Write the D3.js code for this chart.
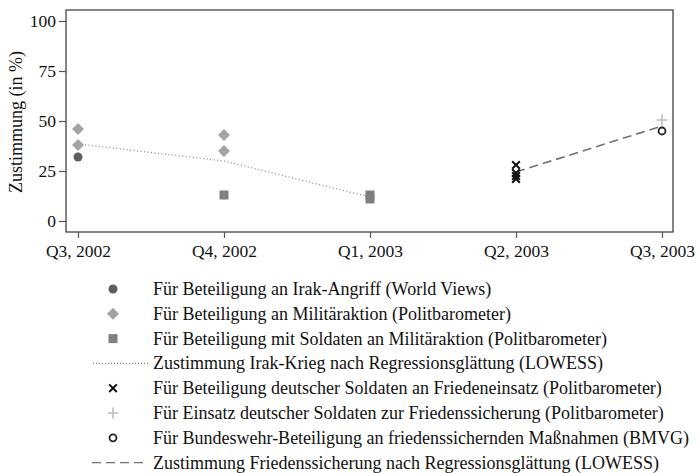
<!DOCTYPE html>
<html>
<head>
<meta charset="utf-8">
<script src="https://cdn.jsdelivr.net/npm/d3@7"></script>
<style>
  body { margin: 0; background: #fff; }
</style>
</head>
<body>
<div id="chart"></div>
<script>
// quarters on the x axis
var quarters = ["Q3, 2002", "Q4, 2002", "Q1, 2003", "Q2, 2003", "Q3, 2003"];
var yTicks = [0, 25, 50, 75, 100];

// survey values, [quarter, percent]
var irakWorldViews = [["Q3, 2002", 32]];
var militaerPolitbarometer = [["Q3, 2002", 46], ["Q3, 2002", 38], ["Q4, 2002", 43], ["Q4, 2002", 35]];
var soldatenPolitbarometer = [["Q4, 2002", 13], ["Q1, 2003", 13], ["Q1, 2003", 11]];
var lowessIrak = [["Q3, 2002", 38.5], ["Q4, 2002", 30], ["Q1, 2003", 12]];
var friedenPolitbarometer = [["Q2, 2003", 28], ["Q2, 2003", 24], ["Q2, 2003", 22.5], ["Q2, 2003", 21]];
var einsatzPolitbarometer = [["Q3, 2003", 50.5]];
var bmvg = [["Q3, 2003", 45]];
var lowessFrieden = [["Q2, 2003", 24.5], ["Q3, 2003", 47.5]];

var legendLabels = [
  "Für Beteiligung an Irak-Angriff (World Views)",
  "Für Beteiligung an Militäraktion (Politbarometer)",
  "Für Beteiligung mit Soldaten an Militäraktion (Politbarometer)",
  "Zustimmung Irak-Krieg nach Regressionsglättung (LOWESS)",
  "Für Beteiligung deutscher Soldaten an Friedeneinsatz (Politbarometer)",
  "Für Einsatz deutscher Soldaten zur Friedenssicherung (Politbarometer)",
  "Für Bundeswehr-Beteiligung an friedenssichernden Maßnahmen (BMVG)",
  "Zustimmung Friedenssicherung nach Regressionsglättung (LOWESS)"
];

var FONT = "'Liberation Serif'";

var width = 698, height = 473;
var frame = {left: 66, right: 673, top: 10, bottom: 232};

var svg = d3.select("#chart").append("svg")
  .attr("width", width)
  .attr("height", height);

var x = d3.scalePoint().domain(quarters).range([78, 662]);
var y = d3.scaleLinear().domain([0, 100]).range([221, 21]);

// frame
svg.append("rect")
  .attr("x", frame.left).attr("y", frame.top)
  .attr("width", frame.right - frame.left)
  .attr("height", frame.bottom - frame.top)
  .attr("fill", "none")
  .attr("stroke", "#333")
  .attr("stroke-width", 1.2);

// axes
var yAxis = svg.append("g")
  .attr("transform", "translate(" + frame.left + ",0)")
  .call(d3.axisLeft(y).tickValues(yTicks).tickSize(7).tickPadding(3));
var xAxis = svg.append("g")
  .attr("transform", "translate(0," + frame.bottom + ")")
  .call(d3.axisBottom(x).tickSize(6).tickPadding(7));
[yAxis, xAxis].forEach(function(a){
  a.attr("font-family", FONT).attr("font-size", 17.5);
  a.select(".domain").remove();
  a.selectAll(".tick line").attr("stroke", "#555").attr("stroke-width", 1.2);
  a.selectAll("text").attr("fill", "#111");
});

svg.append("text")
  .attr("transform", "translate(22,122) rotate(-90)")
  .attr("text-anchor", "middle")
  .attr("font-family", FONT)
  .attr("font-size", 18)
  .attr("fill", "#111")
  .text("Zustimmung (in %)");

// smoothing lines
var line = d3.line()
  .x(function(d){ return x(d[0]); })
  .y(function(d){ return y(d[1]); });

svg.append("path").datum(lowessIrak)
  .attr("d", line).attr("fill", "none")
  .attr("stroke", "#8a8a8a").attr("stroke-width", 1.3)
  .attr("stroke-dasharray", "1,2.5");
svg.append("path").datum(lowessFrieden)
  .attr("d", line).attr("fill", "none")
  .attr("stroke", "#707070").attr("stroke-width", 1.6)
  .attr("stroke-dasharray", "9,5");

// marker styles
var styles = [
  {type: d3.symbolCircle, size: 63, fill: "#5e5e5e", stroke: "none"},
  {type: d3.symbolDiamond2, size: 92, fill: "#a3a3a3", stroke: "none"},
  {type: d3.symbolSquare, size: 81, fill: "#7f7f7f", stroke: "none"},
  null,
  {type: d3.symbolX, size: 40, fill: "none", stroke: "#111", sw: 2},
  {type: d3.symbolPlus, size: 40, fill: "none", stroke: "#bdbdbd", sw: 1.6},
  {type: d3.symbolCircle, size: 38, fill: "none", stroke: "#222", sw: 1.8},
  null
];

function drawMarker(g, st){
  g.append("path")
    .attr("d", d3.symbol().type(st.type).size(st.size))
    .attr("fill", st.fill)
    .attr("stroke", st.stroke)
    .attr("stroke-width", st.sw || 0);
}

var series = [irakWorldViews, militaerPolitbarometer, soldatenPolitbarometer, null,
  friedenPolitbarometer, einsatzPolitbarometer, bmvg, null];

series.forEach(function(data, i){
  if (!data) return;
  svg.append("g").selectAll("g")
    .data(data)
    .enter()
    .append("g")
    .attr("transform", function(d){ return "translate(" + x(d[0]) + "," + y(d[1]) + ")"; })
    .each(function(){ drawMarker(d3.select(this), styles[i]); });
});

// legend
var legend = svg.append("g");
legendLabels.forEach(function(label, i){
  var ly = 289 + i * 24.8;
  var row = legend.append("g").attr("transform", "translate(0," + ly + ")");
  if (styles[i]) {
    drawMarker(row.append("g").attr("transform", "translate(113,0)"), styles[i]);
  } else if (i === 3) {
    row.append("line").attr("x1", 93).attr("x2", 148).attr("y1", 0).attr("y2", 0)
      .attr("stroke", "#8a8a8a").attr("stroke-width", 1.2).attr("stroke-dasharray", "1,2");
  } else {
    row.append("line").attr("x1", 92).attr("x2", 148).attr("y1", 0).attr("y2", 0)
      .attr("stroke", "#707070").attr("stroke-width", 1.4).attr("stroke-dasharray", "9,5");
  }
  row.append("text")
    .attr("x", 153).attr("y", 6)
    .attr("font-family", FONT)
    .attr("font-size", 18)
    .attr("fill", "#111")
    .text(label);
});
</script>
</body>
</html>
